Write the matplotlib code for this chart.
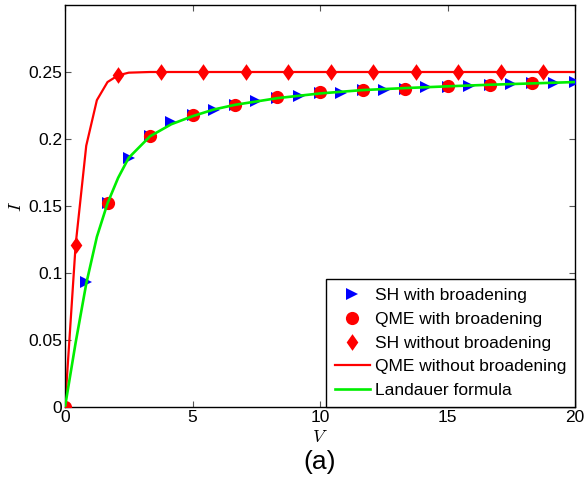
import numpy as np
import matplotlib
matplotlib.use("Agg")
import matplotlib.pyplot as plt
from matplotlib.path import Path

plt.rcParams['font.family'] = ['Liberation Sans', 'DejaVu Sans']
plt.rcParams['mathtext.fontset'] = 'cm'

# SH with broadening (blue triangles)
v_sh_b = [0, 0.833, 1.667, 2.5, 3.333, 4.167, 5, 5.833, 6.667, 7.5, 8.333, 9.167, 10,
          10.833, 11.667, 12.5, 13.333, 14.167, 15, 15.833, 16.667, 17.5, 18.333, 19.167, 20]
i_sh_b = [0, 0.093, 0.152, 0.186, 0.202, 0.213, 0.218, 0.222, 0.2255, 0.228, 0.2305, 0.232, 0.234,
          0.2345, 0.2362, 0.2362, 0.2372, 0.2385, 0.239, 0.2395, 0.2403, 0.241, 0.2415, 0.2418, 0.2425]

# QME with broadening (red circles)
v_qme_b = [0, 1.667, 3.333, 5, 6.667, 8.333, 10, 11.667, 13.333, 15, 16.667, 18.333]
i_qme_b = [0, 0.152, 0.202, 0.218, 0.2253, 0.2313, 0.235, 0.2365, 0.2373, 0.2395, 0.2403, 0.2418]

# SH without broadening (red diamonds)
v_sh_nb = [0.417, 2.083, 3.75, 5.417, 7.083, 8.75, 10.417, 12.083, 13.75, 15.417, 17.083, 18.75]
i_sh_nb = [0.121, 0.2475, 0.25, 0.25, 0.25, 0.25, 0.25, 0.25, 0.25, 0.25, 0.25, 0.25]

# QME without broadening (red line)
v_qme_nb = [0, 0.417, 0.833, 1.25, 1.667, 2.083, 2.5, 3.333, 5, 10, 15, 20]
i_qme_nb = [0, 0.121, 0.195, 0.229, 0.2425, 0.2475, 0.2495, 0.25, 0.25, 0.25, 0.25, 0.25]

# Landauer formula (green line)
v_land = [0, 0.417, 0.833, 1.25, 1.667, 2.083, 2.5, 3.333, 4.167, 5, 5.833, 6.667, 7.5,
          8.333, 10, 11.667, 13.333, 15, 16.667, 18.333, 20]
i_land = [0, 0.048, 0.092, 0.127, 0.152, 0.171, 0.186, 0.202, 0.211, 0.217, 0.222, 0.2255, 0.228,
          0.2305, 0.234, 0.2365, 0.238, 0.2393, 0.2405, 0.2415, 0.2425]

xticks = [0, 5, 10, 15, 20]
yticks = [0, 0.05, 0.1, 0.15, 0.2, 0.25]
yticklabels = ['0', '0.05', '0.1', '0.15', '0.2', '0.25']

# 縦長のダイヤ (MATLAB 風)
diamond = Path([(-0.7, 0), (0, 1), (0.7, 0), (0, -1), (-0.7, 0)],
               [Path.MOVETO, Path.LINETO, Path.LINETO, Path.LINETO, Path.CLOSEPOLY])

fig = plt.figure(figsize=(5.85, 4.8), dpi=100)
ax = fig.add_axes([65/585, 1 - 407/480, 510/585, 402/480])

h1, = ax.plot(v_sh_b, i_sh_b, linestyle='none', marker='>', color='blue',
              markersize=9, markeredgewidth=0, zorder=3, label='SH with broadening')
h2, = ax.plot(v_qme_b, i_qme_b, linestyle='none', marker='o', color='red',
              markersize=9.5, markeredgewidth=0, zorder=4, label='QME with broadening')
h3, = ax.plot(v_sh_nb, i_sh_nb, linestyle='none', marker=diamond, color='red',
              markersize=12, markeredgewidth=0, zorder=4, label='SH without broadening')
h4, = ax.plot(v_qme_nb, i_qme_nb, '-', color='red', linewidth=1.6, zorder=2,
              label='QME without broadening')
h5, = ax.plot(v_land, i_land, '-', color='#00ee00', linewidth=1.9, zorder=5,
              label='Landauer formula')

ax.set_xlim(0, 20)
ax.set_ylim(0, 0.3)
ax.set_xticks(xticks)
ax.set_xticklabels([str(t) for t in xticks])
ax.set_yticks(yticks)
ax.set_yticklabels(yticklabels)
ax.tick_params(direction='in', length=4, width=0.8, color='#555555',
               top=True, right=True, labelsize=12.5, pad=2)
for s in ax.spines.values():
    s.set_linewidth(1.0)

ax.set_xlabel('$V$', fontsize=13, labelpad=3)
ax.set_ylabel('$I$', fontsize=13, labelpad=2)

leg = ax.legend(handles=[h1, h2, h3, h4, h5], loc='lower right', borderaxespad=0,
                fontsize=12.5, fancybox=False, framealpha=1, edgecolor='black',
                handlelength=2.0, handletextpad=0.3, labelspacing=0.5, borderpad=0.5)
leg.get_frame().set_linewidth(1.0)

fig.text(320/585, 1 - 462/480, '(a)', fontsize=19, ha='center', va='center')

fig.savefig('out.png', dpi=100)
